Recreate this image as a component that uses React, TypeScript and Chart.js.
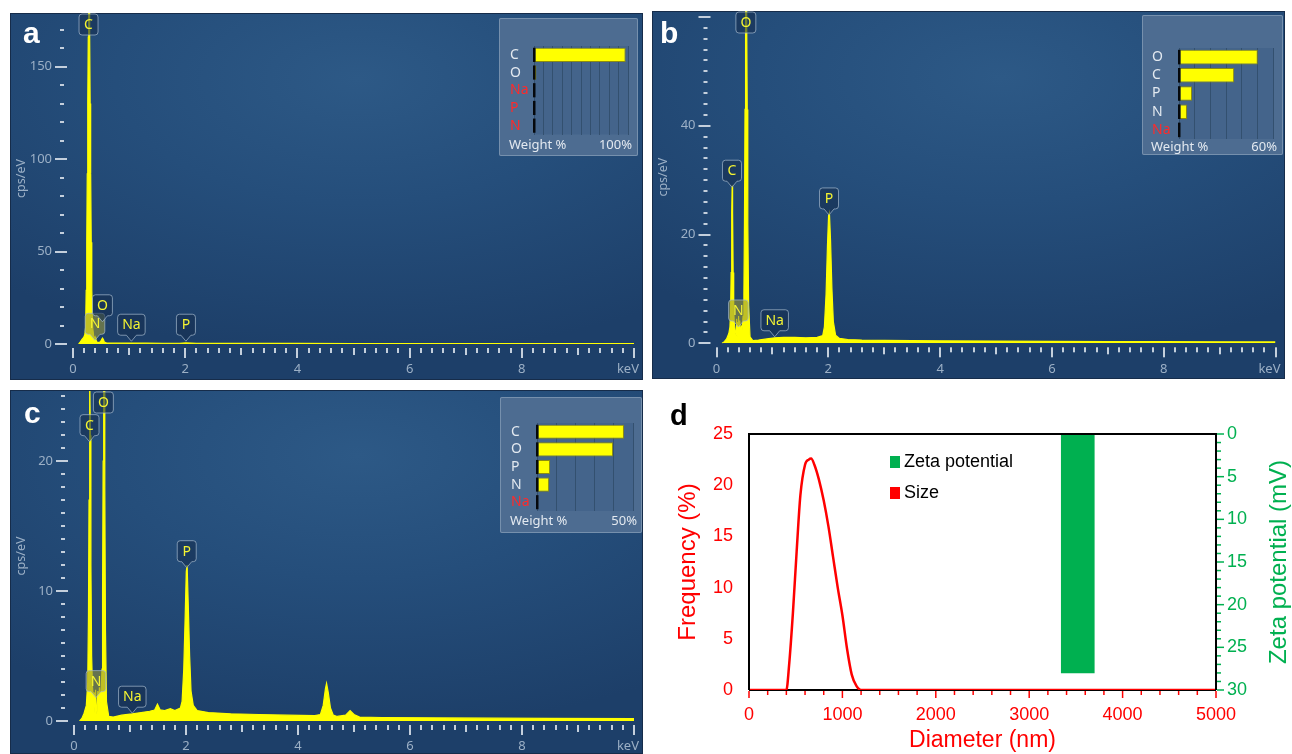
import { useEffect, useRef } from 'react';
import { Chart, registerables } from 'chart.js';

Chart.register(...registerables);

// ---------------- data ----------------
// (a) EDS spectrum
const specAKeV = [0.10, 0.13, 0.16, 0.19, 0.21, 0.225, 0.235, 0.245, 0.254, 0.263, 0.272, 0.28, 0.288, 0.297, 0.306, 0.315, 0.325, 0.335, 0.35, 0.37, 0.385, 0.395, 0.405, 0.42, 0.45, 0.49, 0.51, 0.525, 0.54, 0.56, 0.6, 0.7, 0.85, 1.04, 1.3, 1.6, 1.9, 2.01, 2.2, 2.6, 3.2, 4, 5, 6, 7, 8, 9, 10];
const specACps = [0, 1.2, 2.5, 3.5, 5, 9, 29, 55, 92, 130, 166, 192, 192, 166, 130, 92, 55, 29, 9, 4, 3.2, 3.8, 2.8, 1.2, 0.8, 1.2, 2.4, 3.2, 2.5, 1.0, 0.5, 0.45, 0.45, 0.55, 0.45, 0.4, 0.4, 0.6, 0.4, 0.35, 0.32, 0.3, 0.28, 0.26, 0.25, 0.24, 0.22, 0.2];
// (b) EDS spectrum
const specBKeV = [0.10, 0.14, 0.18, 0.22, 0.24, 0.252, 0.262, 0.272, 0.28, 0.288, 0.298, 0.308, 0.32, 0.335, 0.35, 0.36, 0.375, 0.385, 0.395, 0.405, 0.415, 0.43, 0.445, 0.46, 0.475, 0.49, 0.5, 0.51, 0.52, 0.53, 0.54, 0.55, 0.56, 0.575, 0.6, 0.65, 0.75, 0.9, 1.04, 1.2, 1.4, 1.6, 1.8, 1.9, 1.93, 1.96, 1.985, 2.005, 2.02, 2.04, 2.065, 2.09, 2.13, 2.2, 2.35, 2.6, 3, 3.5, 4, 5, 6, 7, 8, 9, 10];
const specBCps = [0, 0.3, 0.8, 1.8, 3, 6, 13, 24, 29, 24, 13, 6, 3.5, 2.5, 1.5, 4.5, 1.2, 3.8, 5, 1.8, 4.2, 1.5, 3, 2.5, 5, 9, 22, 43, 60, 66, 60, 43, 22, 7, 1.2, 0.5, 0.6, 0.8, 1.0, 1.1, 1.1, 1.0, 1.1, 1.4, 3, 9, 18, 23.5, 24, 19, 10, 4, 1.5, 0.9, 0.7, 0.6, 0.55, 0.5, 0.45, 0.4, 0.35, 0.32, 0.3, 0.28, 0.25];
// (c) EDS spectrum
const specCKeV = [0.10, 0.14, 0.18, 0.22, 0.245, 0.258, 0.268, 0.276, 0.284, 0.292, 0.302, 0.315, 0.33, 0.345, 0.36, 0.372, 0.385, 0.395, 0.41, 0.425, 0.44, 0.455, 0.47, 0.485, 0.5, 0.51, 0.52, 0.53, 0.54, 0.55, 0.562, 0.58, 0.62, 0.7, 0.85, 1.04, 1.2, 1.35, 1.44, 1.49, 1.54, 1.62, 1.72, 1.8, 1.9, 1.93, 1.96, 1.985, 2.005, 2.02, 2.04, 2.065, 2.09, 2.13, 2.2, 2.4, 2.8, 3.3, 3.8, 4.3, 4.4, 4.45, 4.49, 4.51, 4.54, 4.58, 4.63, 4.7, 4.85, 4.93, 5.0, 5.1, 5.5, 6.5, 7.5, 8.5, 10];
const specCCps = [0, 0.2, 0.6, 1.2, 3, 8, 17, 25, 27, 22, 12, 5, 2.6, 1.8, 2.2, 0.6, 2.4, 1.2, 0.5, 2.3, 1.6, 2.6, 1.4, 2.4, 4, 10, 20, 27, 27, 18, 7, 1.5, 0.35, 0.3, 0.45, 0.55, 0.65, 0.75, 0.85, 1.3, 0.85, 0.8, 0.95, 0.8, 1.0, 1.5, 4, 8, 11.5, 12, 9, 5, 2.3, 1.2, 0.8, 0.65, 0.55, 0.5, 0.45, 0.42, 0.5, 1.2, 2.5, 2.9, 2.2, 1.0, 0.45, 0.35, 0.45, 0.8, 0.5, 0.3, 0.27, 0.24, 0.22, 0.2, 0.18];

// element tags (element, line energy keV, tag tip height cps/eV)
const tagsAEl = ['C', 'N', 'O', 'Na', 'P'];
const tagsAKeV = [0.277, 0.392, 0.525, 1.041, 2.013];
const tagsACps = [179, 2, 12, 1.5, 1.5];
const tagsBEl = ['O', 'C', 'N', 'Na', 'P'];
const tagsBKeV = [0.525, 0.277, 0.392, 1.041, 2.013];
const tagsBCps = [62, 28.7, 3, 1.2, 23.6];
const tagsCEl = ['O', 'C', 'N', 'Na', 'P'];
const tagsCKeV = [0.525, 0.277, 0.392, 1.041, 2.013];
const tagsCCps = [26, 21.5, 1.8, 0.6, 11.8];
const highlightedEl = 'N';

// weight % insets
const wtAEl = ['C', 'O', 'Na', 'P', 'N'];
const wtAVal = [97.5, 2.5, 0, 0, 0];
const wtAMax = 100;
const wtBEl = ['O', 'C', 'P', 'N', 'Na'];
const wtBVal = [50.3, 35.2, 8.3, 5.1, 0];
const wtBMax = 60;
const wtCEl = ['C', 'O', 'P', 'N', 'Na'];
const wtCVal = [45.3, 39.6, 6.8, 6.3, 0];
const wtCMax = 50;

// (d) size distribution and zeta potential
const sizeNm = [0, 400, 430, 470, 510, 550, 600, 640, 665, 700, 750, 800, 850, 900, 950, 1000, 1050, 1100, 1150, 1200, 5000];
const sizeFreq = [0, 0, 2.5, 7.5, 13.5, 19, 22, 22.5, 22.6, 22, 20.5, 18.5, 16, 13, 10, 7.3, 4, 1.5, 0.4, 0, 0];
const zetaNm = [3520];
const zetaMv = [28];

// ---------------- styling ----------------
const SANS = '"Liberation Sans", Arial, sans-serif';
const UI = '"Noto Sans", "Open Sans", sans-serif';
const EDS_TICK = '#c4cfdc';
const EDS_LABEL = '#9cb0c6';
const TAG_TEXT = '#f4f432';
const SPEC_YELLOW = '#ffff00';
const RED = '#ff0000';
const GREEN = '#00b050';

type EdsLayout = {
  left: number; top: number; width: number; height: number;
  areaLeft: number; areaRight: number; areaTop: number; areaBottom: number;
  yMax: number; yMajor: number; yMinor: number;
  letter: string; letterX: number; letterY: number;
};

const layA: EdsLayout = { left: 10, top: 13, width: 633, height: 367, areaLeft: 63, areaRight: 624, areaTop: 0, areaBottom: 331, yMax: 179, yMajor: 50, yMinor: 10, letter: 'a', letterX: 13, letterY: 30 };
const layB: EdsLayout = { left: 652, top: 11, width: 633, height: 368, areaLeft: 64.5, areaRight: 623.5, areaTop: 0, areaBottom: 332.3, yMax: 61.1, yMajor: 20, yMinor: 2, letter: 'b', letterX: 8, letterY: 31.5 };
const layC: EdsLayout = { left: 10, top: 390, width: 633, height: 364, areaLeft: 64, areaRight: 624, areaTop: 1, areaBottom: 331, yMax: 25.4, yMajor: 10, yMinor: 1, letter: 'c', letterX: 14, letterY: 33 };

type InsetLayout = { left: number; top: number; width: number; height: number; areaLeft: number; areaRight: number; areaTop: number; areaBottom: number; labelX: number; footerY: number };
const insA: InsetLayout = { left: 499, top: 18, width: 139, height: 138, areaLeft: 35, areaRight: 129, areaTop: 28, areaBottom: 116.5, labelX: 11, footerY: 127 };
const insB: InsetLayout = { left: 1142, top: 15, width: 141, height: 140, areaLeft: 37, areaRight: 131, areaTop: 33, areaBottom: 124, labelX: 10, footerY: 132 };
const insC: InsetLayout = { left: 500, top: 397, width: 142, height: 136, areaLeft: 37, areaRight: 133, areaTop: 26, areaBottom: 114, labelX: 11, footerY: 124 };

function zeroPad(s: any) {
  s.paddingLeft = 0; s.paddingRight = 0; s.paddingTop = 0; s.paddingBottom = 0;
}

function drawTag(ctx: CanvasRenderingContext2D, x: number, boxTop: number, w: number, h: number, tipY: number | null, hi: boolean, text: string) {
  const l = x - w / 2, r = x + w / 2, b = boxTop + h, rad = 3;
  ctx.beginPath();
  ctx.moveTo(l + rad, boxTop);
  ctx.lineTo(r - rad, boxTop);
  ctx.quadraticCurveTo(r, boxTop, r, boxTop + rad);
  ctx.lineTo(r, b - rad);
  ctx.quadraticCurveTo(r, b, r - rad, b);
  if (tipY !== null) {
    ctx.lineTo(x + 5, b);
    ctx.lineTo(x, tipY);
    ctx.lineTo(x - 5, b);
  }
  ctx.lineTo(l + rad, b);
  ctx.quadraticCurveTo(l, b, l, b - rad);
  ctx.lineTo(l, boxTop + rad);
  ctx.quadraticCurveTo(l, boxTop, l + rad, boxTop);
  ctx.closePath();
  ctx.fillStyle = hi ? 'rgba(150,150,60,0.6)' : 'rgba(22,46,80,0.6)';
  ctx.fill();
  ctx.strokeStyle = 'rgba(165,185,205,0.7)';
  ctx.lineWidth = 1;
  ctx.stroke();
  ctx.fillStyle = TAG_TEXT;
  ctx.textAlign = 'center';
  ctx.textBaseline = 'middle';
  ctx.fillText(text, x, boxTop + h / 2 + 0.5);
}

function makeEds(lay: EdsLayout, keV: number[], cps: number[], tagEl: string[], tagKeV: number[], tagCps: number[]) {
  const decor = {
    id: 'edsDecor',
    afterDatasetsDraw(chart: any) {
      const ctx: CanvasRenderingContext2D = chart.ctx;
      const xs = chart.scales.x;
      const ys = chart.scales.y;
      const a = chart.chartArea;
      ctx.save();
      ctx.fillStyle = EDS_TICK;
      const ratio = Math.round(lay.yMajor / lay.yMinor);
      for (let i = 0; i * lay.yMinor <= lay.yMax + 1e-9; i++) {
        const y = Math.round(ys.getPixelForValue(i * lay.yMinor));
        if (i % ratio === 0) ctx.fillRect(a.left - 18, y - 1, 12, 2);
        else ctx.fillRect(a.left - 13, y - 1, 4, 2);
      }
      for (let i = 0; i <= 50; i++) {
        const x = Math.round(xs.getPixelForValue(i * 0.2));
        const len = i % 10 === 0 ? 10 : i % 5 === 0 ? 7 : 5;
        ctx.fillRect(x - 1, a.bottom + 4, 2, len);
      }
      ctx.fillStyle = EDS_LABEL;
      ctx.font = `13px ${UI}`;
      ctx.textAlign = 'right';
      ctx.textBaseline = 'middle';
      ctx.fillText('keV', a.right + 5, a.bottom + 25.5);

      ctx.font = `14px ${UI}`;
      for (let i = 0; i < tagEl.length; i++) {
        const x = xs.getPixelForValue(tagKeV[i]);
        const w = Math.max(19, ctx.measureText(tagEl[i]).width + 9);
        const h = 21;
        if (tagCps[i] >= lay.yMax) {
          drawTag(ctx, x, a.top + 1, w, h, null, tagEl[i] === highlightedEl, tagEl[i]);
        } else {
          const tipY = ys.getPixelForValue(tagCps[i]);
          drawTag(ctx, x, tipY - 6 - h, w, h, tipY, tagEl[i] === highlightedEl, tagEl[i]);
        }
      }

      ctx.fillStyle = '#ffffff';
      ctx.font = `bold 30px ${SANS}`;
      ctx.textAlign = 'left';
      ctx.textBaseline = 'alphabetic';
      ctx.fillText(lay.letter, lay.letterX, lay.letterY);
      ctx.restore();
    },
  };
  return {
    type: 'line',
    data: {
      datasets: [{
        data: keV.map((x, i) => ({ x, y: cps[i] })),
        borderColor: SPEC_YELLOW,
        backgroundColor: SPEC_YELLOW,
        borderWidth: 1.2,
        fill: 'origin',
        pointRadius: 0,
        tension: 0,
      }],
    },
    options: {
      responsive: false,
      animation: false,
      events: [],
      layout: { padding: { left: 0, top: lay.areaTop, right: lay.width - lay.areaRight, bottom: 0 } },
      plugins: { legend: { display: false }, tooltip: { enabled: false } },
      scales: {
        x: {
          type: 'linear', min: 0, max: 10,
          grid: { display: false, drawTicks: false },
          border: { display: false },
          ticks: {
            stepSize: 2, autoSkip: false, maxRotation: 0, color: EDS_LABEL,
            font: { family: UI, size: 13, lineHeight: 1 }, padding: 19,
            callback: (v: number) => (v >= 10 ? '' : String(v)),
          },
          afterFit: (s: any) => { s.height = lay.height - lay.areaBottom; zeroPad(s); },
        },
        y: {
          type: 'linear', min: 0, max: lay.yMax,
          grid: { display: false, drawTicks: false },
          border: { display: false },
          ticks: {
            stepSize: lay.yMajor, includeBounds: false, color: EDS_LABEL,
            font: { family: UI, size: 13, lineHeight: 1 }, padding: 21,
            callback: (v: number) => (v > lay.yMax - lay.yMajor * 0.15 ? '' : String(v)),
          },
          title: {
            display: true, text: 'cps/eV', color: EDS_LABEL,
            font: { family: UI, size: 12.5, lineHeight: 1 }, padding: { top: 5.5, bottom: 0 },
          },
          afterFit: (s: any) => { s.width = lay.areaLeft; zeroPad(s); },
        },
      },
    },
    plugins: [decor],
  };
}

function makeInset(lay: InsetLayout, els: string[], vals: number[], max: number) {
  const decor = {
    id: 'insetDecor',
    beforeDraw(chart: any) {
      const ctx: CanvasRenderingContext2D = chart.ctx;
      const a = chart.chartArea;
      ctx.save();
      ctx.fillStyle = '#44648b';
      ctx.fillRect(a.left, a.top, a.right - a.left, a.bottom - a.top);
      ctx.restore();
    },
    afterDatasetsDraw(chart: any) {
      const ctx: CanvasRenderingContext2D = chart.ctx;
      const a = chart.chartArea;
      const x0 = chart.scales.x.getPixelForValue(0);
      const meta = chart.getDatasetMeta(0);
      ctx.save();
      ctx.fillStyle = '#05080c';
      meta.data.forEach((el: any) => {
        ctx.fillRect(x0 - 1, el.y - el.height / 2, 2.5, el.height);
      });
      ctx.fillStyle = '#e3e9f0';
      ctx.font = `13px ${UI}`;
      ctx.textBaseline = 'middle';
      ctx.textAlign = 'left';
      ctx.fillText('Weight %', lay.labelX - 1, lay.footerY);
      ctx.textAlign = 'right';
      ctx.fillText(`${max}%`, a.right + 4, lay.footerY);
      ctx.restore();
    },
  };
  return {
    type: 'bar',
    data: {
      labels: els,
      datasets: [{
        data: vals,
        backgroundColor: SPEC_YELLOW,
        borderColor: '#8c8c10',
        borderWidth: 1,
        borderSkipped: false,
        barPercentage: 0.8,
        categoryPercentage: 1,
      }],
    },
    options: {
      indexAxis: 'y',
      responsive: false,
      animation: false,
      events: [],
      layout: { padding: { left: lay.labelX, top: lay.areaTop, right: lay.width - lay.areaRight, bottom: lay.height - lay.areaBottom } },
      plugins: { legend: { display: false }, tooltip: { enabled: false } },
      scales: {
        x: {
          type: 'linear', min: 0, max,
          ticks: { display: false, stepSize: 10 },
          grid: { color: '#33506f', lineWidth: 1, drawTicks: false },
          border: { display: false },
          afterFit: (s: any) => { s.height = 0; zeroPad(s); },
        },
        y: {
          grid: { display: false, drawTicks: false },
          border: { display: false },
          ticks: {
            crossAlign: 'far', padding: 0,
            font: { family: UI, size: 14, lineHeight: 1 },
            color: (c: any) => (vals[c.index] === 0 ? '#ff2a2a' : '#e3e9f0'),
          },
          afterFit: (s: any) => { s.width = lay.areaLeft - lay.labelX; zeroPad(s); },
        },
      },
    },
    plugins: [decor],
  };
}

function makeD() {
  const decor = {
    id: 'dDecor',
    beforeDatasetsDraw(chart: any) {
      const ctx: CanvasRenderingContext2D = chart.ctx;
      const a = chart.chartArea;
      ctx.save();
      ctx.strokeStyle = '#000';
      ctx.lineWidth = 2;
      ctx.beginPath();
      ctx.moveTo(a.left, a.bottom);
      ctx.lineTo(a.right, a.bottom);
      ctx.stroke();
      ctx.restore();
    },
    afterDatasetsDraw(chart: any) {
      const ctx: CanvasRenderingContext2D = chart.ctx;
      const a = chart.chartArea;
      const xs = chart.scales.x;
      const y1 = chart.scales.y1;
      ctx.save();
      ctx.strokeStyle = '#000';
      ctx.lineWidth = 2;
      ctx.beginPath();
      ctx.moveTo(a.left, a.bottom);
      ctx.lineTo(a.left, a.top);
      ctx.lineTo(a.right, a.top);
      ctx.lineTo(a.right, a.bottom);
      ctx.stroke();

      ctx.strokeStyle = RED;
      ctx.lineWidth = 1.5;
      for (let v = 0; v <= 5000; v += 200) {
        const x = xs.getPixelForValue(v);
        const len = v % 1000 === 0 ? 7 : 4;
        ctx.beginPath();
        ctx.moveTo(x, a.bottom + 1);
        ctx.lineTo(x, a.bottom + 1 + len);
        ctx.stroke();
      }
      ctx.strokeStyle = GREEN;
      for (let v = 0; v <= 30; v++) {
        const y = y1.getPixelForValue(v);
        const len = v % 5 === 0 ? 7 : 4;
        ctx.beginPath();
        ctx.moveTo(a.right + 1, y);
        ctx.lineTo(a.right + 1 + len, y);
        ctx.stroke();
      }

      // right axis title (reads bottom to top)
      ctx.save();
      ctx.translate(629, (a.top + a.bottom) / 2);
      ctx.rotate(-Math.PI / 2);
      ctx.fillStyle = GREEN;
      ctx.font = `24px ${SANS}`;
      ctx.textAlign = 'center';
      ctx.textBaseline = 'middle';
      ctx.fillText('Zeta potential (mV)', 0, 0);
      ctx.restore();

      // legend
      ctx.font = `18px ${SANS}`;
      ctx.textAlign = 'left';
      ctx.textBaseline = 'middle';
      chart.data.datasets.forEach((ds: any, i: number) => {
        const cy = a.top + 28 + i * 31;
        ctx.fillStyle = ds.legendColor;
        ctx.fillRect(a.left + 141, cy - 6, 10, 12);
        ctx.fillStyle = '#000';
        ctx.fillText(ds.label, a.left + 155, cy);
      });

      ctx.fillStyle = '#000';
      ctx.font = `bold 29px ${SANS}`;
      ctx.textBaseline = 'alphabetic';
      ctx.fillText('d', 20, 45);
      ctx.restore();
    },
  };
  return {
    type: 'bar',
    data: {
      datasets: [
        {
          type: 'bar',
          label: 'Zeta potential',
          legendColor: GREEN,
          data: zetaNm.map((x, i) => ({ x, y: zetaMv[i] })),
          yAxisID: 'y1',
          backgroundColor: GREEN,
          borderWidth: 0,
          barThickness: 33,
        },
        {
          type: 'line',
          label: 'Size',
          legendColor: RED,
          data: sizeNm.map((x, i) => ({ x, y: sizeFreq[i] })),
          yAxisID: 'y',
          borderColor: RED,
          borderWidth: 2.5,
          pointRadius: 0,
          fill: false,
          cubicInterpolationMode: 'monotone',
        },
      ],
    },
    options: {
      responsive: false,
      animation: false,
      events: [],
      layout: { padding: { left: 0, top: 54, right: 0, bottom: 0 } },
      plugins: { legend: { display: false }, tooltip: { enabled: false } },
      scales: {
        x: {
          type: 'linear', min: 0, max: 5000, offset: false,
          grid: { display: false, drawTicks: false, offset: false },
          border: { display: false },
          ticks: { stepSize: 1000, autoSkip: false, maxRotation: 0, color: RED, font: { family: SANS, size: 18, lineHeight: 1 }, padding: 16, callback: (v: number) => String(v) },
          title: { display: true, text: 'Diameter (nm)', color: RED, font: { family: SANS, size: 23, lineHeight: 1 }, padding: { top: 0, bottom: 1.5 } },
          afterFit: (s: any) => { s.height = 64; zeroPad(s); },
        },
        y: {
          type: 'linear', position: 'left', min: 0, max: 25,
          grid: { display: false, drawTicks: false },
          border: { display: false },
          ticks: { stepSize: 5, color: RED, font: { family: SANS, size: 18, lineHeight: 1 }, padding: 16, callback: (v: number) => String(v) },
          title: { display: true, text: 'Frequency (%)', color: RED, font: { family: SANS, size: 24, lineHeight: 1 }, padding: { top: 26, bottom: 0 } },
          afterFit: (s: any) => { s.width = 99; zeroPad(s); },
        },
        y1: {
          type: 'linear', position: 'right', min: 0, max: 30, reverse: true,
          grid: { display: false, drawTicks: false },
          border: { display: false },
          ticks: { stepSize: 5, color: GREEN, font: { family: SANS, size: 18, lineHeight: 1 }, padding: 11, callback: (v: number) => String(v) },
          afterFit: (s: any) => { s.width = 76; zeroPad(s); },
        },
      },
    },
    plugins: [decor],
  };
}

function ChartCanvas(props: { left: number; top: number; width: number; height: number; make: () => any }) {
  const ref = useRef<HTMLCanvasElement | null>(null);
  useEffect(() => {
    if (!ref.current) return;
    const chart = new Chart(ref.current, props.make());
    return () => chart.destroy();
  }, []);
  return (
    <canvas
      ref={ref}
      width={props.width}
      height={props.height}
      style={{ position: 'absolute', left: props.left, top: props.top, width: props.width, height: props.height }}
    />
  );
}

const panelBg = 'radial-gradient(ellipse 85% 75% at 55% 18%, #2d5986 0%, #254e7b 45%, #1d3f69 100%)';

function EdsPanel(props: { lay: EdsLayout; ins: InsetLayout; make: () => any; makeInset: () => any }) {
  const { lay, ins } = props;
  return (
    <>
      <div style={{ position: 'absolute', left: lay.left, top: lay.top, width: lay.width, height: lay.height, background: panelBg, boxShadow: 'inset 0 0 0 1px #162c4a' }} />
      <ChartCanvas left={lay.left} top={lay.top} width={lay.width} height={lay.height} make={props.make} />
      <div style={{ position: 'absolute', left: ins.left, top: ins.top, width: ins.width, height: ins.height, background: '#4d6c91', boxShadow: 'inset 0 0 0 1px #7690ad', borderRadius: 2 }} />
      <ChartCanvas left={ins.left} top={ins.top} width={ins.width} height={ins.height} make={props.makeInset} />
    </>
  );
}

export default function App() {
  return (
    <div style={{ position: 'fixed', left: 0, top: 0, width: 1292, height: 754, background: '#ffffff', overflow: 'hidden' }}>
      <EdsPanel lay={layA} ins={insA}
        make={() => makeEds(layA, specAKeV, specACps, tagsAEl, tagsAKeV, tagsACps)}
        makeInset={() => makeInset(insA, wtAEl, wtAVal, wtAMax)} />
      <EdsPanel lay={layB} ins={insB}
        make={() => makeEds(layB, specBKeV, specBCps, tagsBEl, tagsBKeV, tagsBCps)}
        makeInset={() => makeInset(insB, wtBEl, wtBVal, wtBMax)} />
      <EdsPanel lay={layC} ins={insC}
        make={() => makeEds(layC, specCKeV, specCCps, tagsCEl, tagsCKeV, tagsCCps)}
        makeInset={() => makeInset(insC, wtCEl, wtCVal, wtCMax)} />
      <ChartCanvas left={650} top={380} width={642} height={374} make={makeD} />
    </div>
  );
}
